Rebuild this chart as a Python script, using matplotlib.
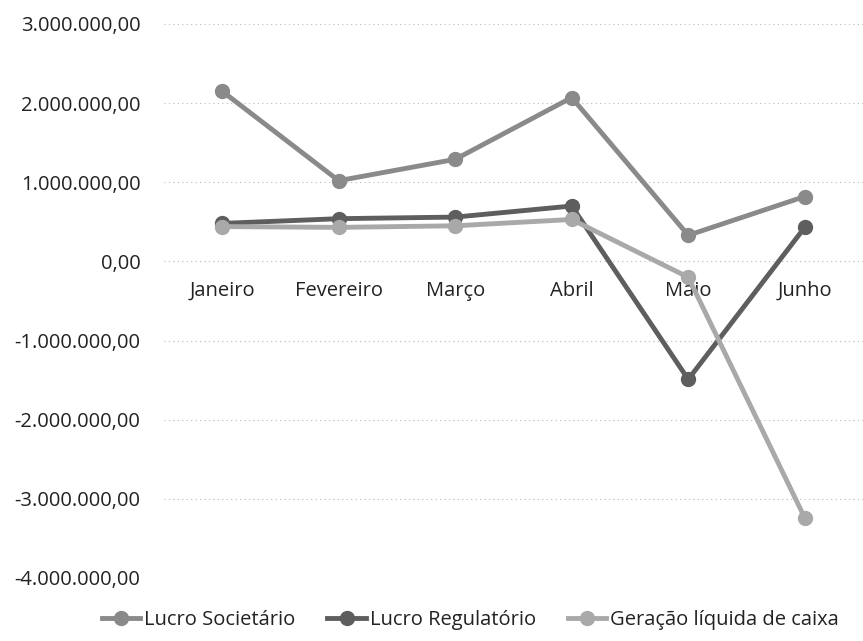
import matplotlib
matplotlib.use("Agg")
import matplotlib.pyplot as plt
from matplotlib.ticker import FuncFormatter

plt.rcParams['font.family'] = ['Open Sans', 'DejaVu Sans']

meses = ["Janeiro", "Fevereiro", "Março", "Abril", "Maio", "Junho"]
lucro_societario = [2150000, 1020000, 1290000, 2070000, 330000, 820000]
lucro_regulatorio = [480000, 540000, 560000, 700000, -1490000, 430000]
geracao_caixa = [440000, 430000, 450000, 530000, -200000, -3240000]
y_ticks = [3000000, 2000000, 1000000, 0, -1000000, -2000000, -3000000, -4000000]

series = [
    ("Lucro Societário", lucro_societario, "#8a8a8a"),
    ("Lucro Regulatório", lucro_regulatorio, "#5e5e5e"),
    ("Geração líquida de caixa", geracao_caixa, "#a9a9a9"),
]

fig = plt.figure(figsize=(8.63, 6.41), dpi=100)
ax = fig.add_axes([0.19, 0.0983, 0.81, 0.8643])

x = list(range(len(meses)))
for name, vals, col in series:
    ax.plot(x, vals, color=col, lw=3.5, marker='o', ms=10,
            markerfacecolor=col, markeredgecolor=col, label=name)

def fmt(v, pos):
    s = f"{abs(v):,.2f}".replace(",", "X").replace(".", ",").replace("X", ".")
    return ("-" if v < 0 else "") + s

ax.set_ylim(-4000000, 3000000)
ax.set_xlim(-0.5, 5.5)
ax.set_yticks(y_ticks)
ax.yaxis.set_major_formatter(FuncFormatter(fmt))
ax.set_xticks(x)
ax.set_xticklabels(meses)
ax.spines['bottom'].set_position(('data', 0))
for s in ax.spines.values():
    s.set_visible(False)
ax.tick_params(axis='both', length=0, labelsize=14.5, colors='#222222')
ax.tick_params(axis='y', pad=17)
ax.tick_params(axis='x', pad=14)
ax.grid(axis='y', color='#b8b8b8', linestyle=(0, (1, 3)), lw=0.8)
ax.set_axisbelow(True)

leg = fig.legend(loc='center', bbox_to_anchor=(0.545, 0.033), ncol=3,
                 frameon=False, fontsize=14.5, handlelength=1.9, columnspacing=1.6,
                 handletextpad=0.2, borderpad=0)
for t in leg.get_texts():
    t.set_color('#222222')

fig.savefig("out.png", dpi=100)
